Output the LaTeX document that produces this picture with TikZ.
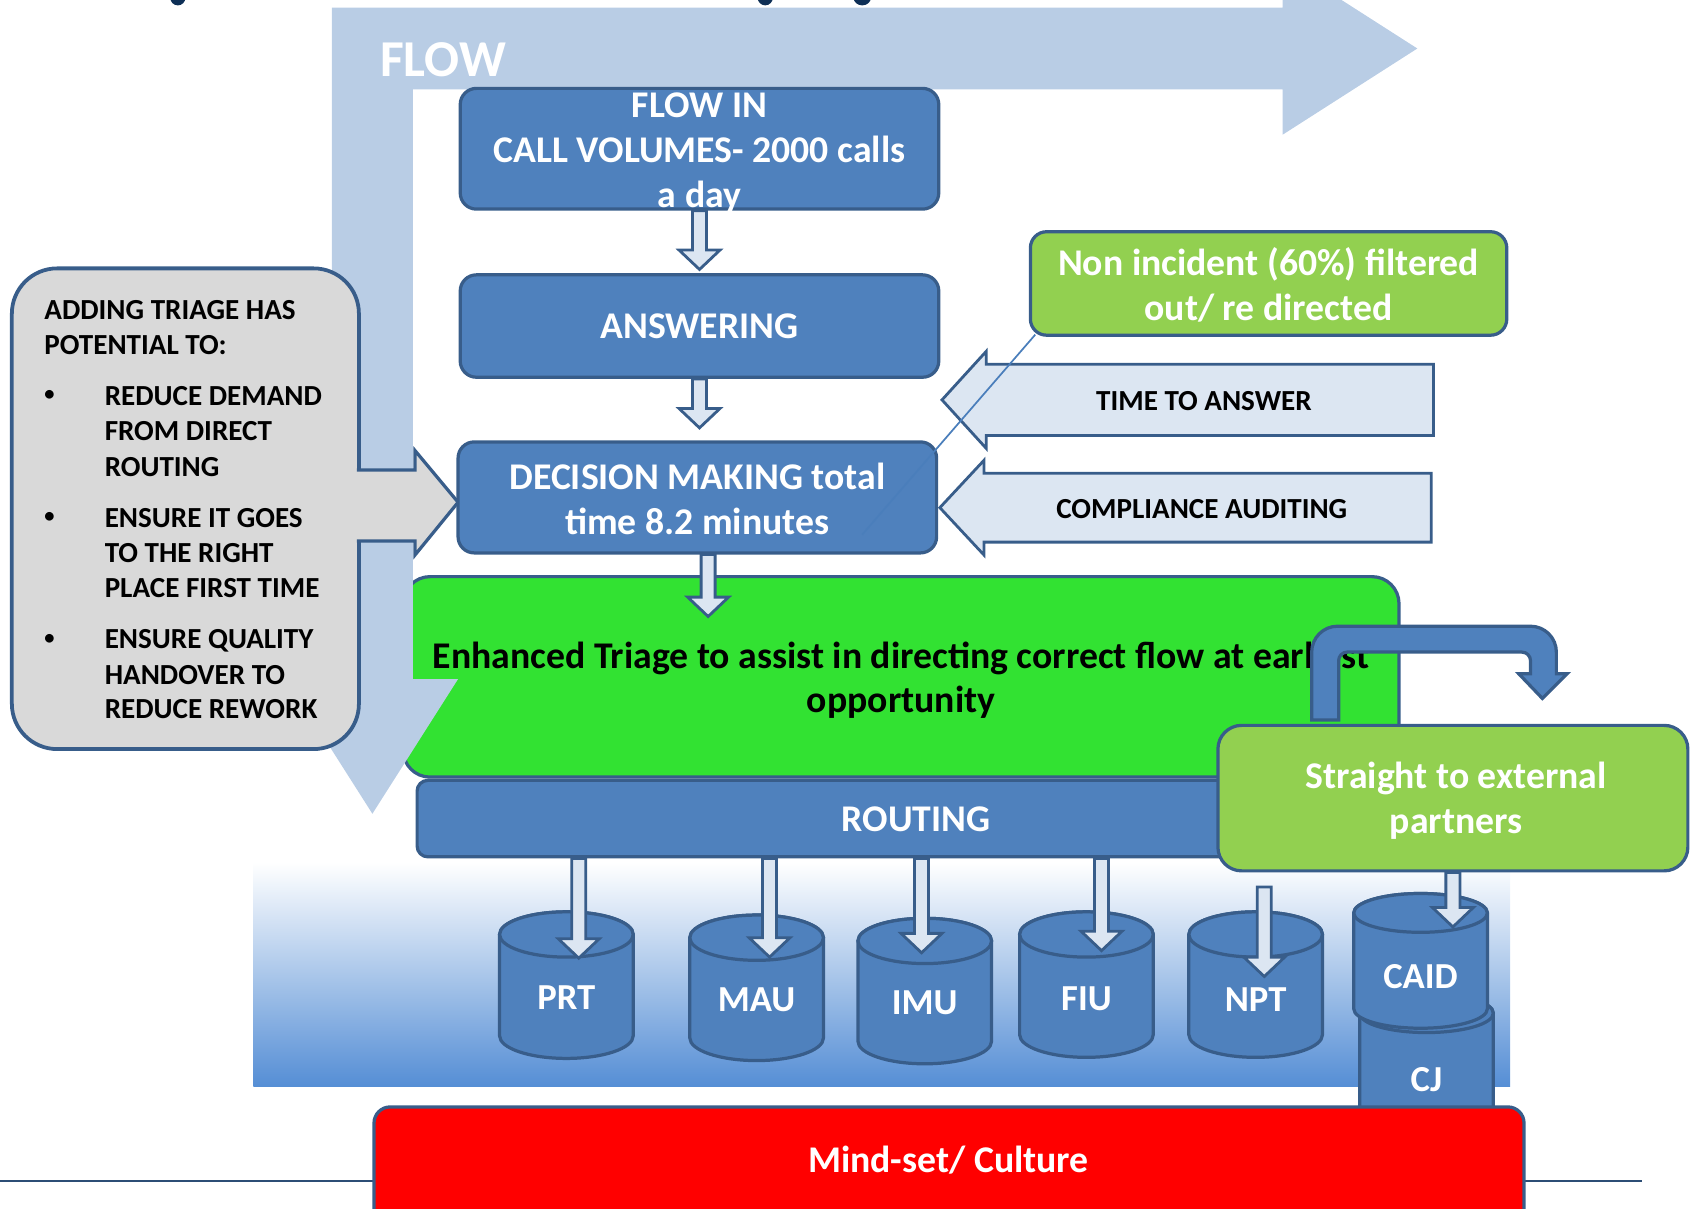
\documentclass[tikz,border=0pt]{standalone}
\usepackage{fontspec}
\setmainfont{Carlito}
\usetikzlibrary{calc}
\definecolor{boxblue}{HTML}{4F81BD}
\definecolor{edge}{HTML}{385D8A}
\definecolor{flowblue}{HTML}{B9CDE5}
\definecolor{paleblue}{HTML}{DCE6F2}
\definecolor{greyfill}{HTML}{D9D9D9}
\definecolor{brightgreen}{HTML}{32E232}
\definecolor{lightgreen}{HTML}{92D050}
\definecolor{gradblue}{HTML}{558ED5}
\definecolor{gradmid}{HTML}{CCD8EE}
\definecolor{navy}{HTML}{0E2F56}
\definecolor{rulecol}{HTML}{2C4D75}
\definecolor{thinline}{HTML}{4A7EBB}
\tikzset{
  bigtext/.style={font=\fontsize{35}{41.5}\selectfont\bfseries, align=center, inner sep=0pt, text=white},
  greytext/.style={font=\fontsize{27}{33}\selectfont\bfseries, inner sep=0pt, text=black, anchor=base west},
  bullettext/.style={font=\fontsize{19}{20}\selectfont\bfseries, inner sep=0pt, text=black, anchor=base west},
  arrowtext/.style={font=\fontsize{27}{30}\selectfont\bfseries, inner sep=0pt, text=black},
  box/.style={draw=edge, line width=3pt, rounded corners=15pt, inner sep=0pt},
  bluebox/.style={box, fill=boxblue},
  hollow/.style={fill=paleblue, draw=edge, line width=2.6pt, line join=miter},
  drumst/.style={fill=boxblue, draw=edge, line width=3pt},
  drumtext/.style={font=\fontsize{34}{40}\selectfont\bfseries, text=white, inner sep=0pt},
}
\newcommand\harrow[2]{%
  \draw[hollow] let \p1=(#1), \p2=(#2) in
    (\x2-6.5pt,\y1) -- (\x2-6.5pt,\y2+18pt) -- (\x2-19pt,\y2+18pt) -- (\x2,\y2)
    -- (\x2+19pt,\y2+18pt) -- (\x2+6.5pt,\y2+18pt) -- (\x2+6.5pt,\y1) -- cycle;}
\newcommand\drum[7]{%
  \draw[drumst] (#2-62,#3) -- (#2-62,#4) arc[start angle=180,end angle=360,x radius=62pt,y radius=#5pt]
    -- (#2+62,#3) arc[start angle=0,end angle=180,x radius=62pt,y radius=#5pt] -- cycle;
  \draw[drumst] (#2,#3) ellipse[x radius=62pt,y radius=#5pt];
  \node[drumtext] (#1) at (#2,#7) {#6};}
\begin{document}
\begin{tikzpicture}[x=1pt,y=-1pt]
\useasboundingbox (0,0) rectangle (1568,1121);
\clip (0,0) rectangle (1568,1121);
% cut-off title descenders
\foreach \cx/\w in {165/7,710/7,800/8,1205/8}{
  \fill[navy] (\cx-\w,-2) -- (\cx+\w,-2) arc[start angle=0,end angle=-180,x radius=\w pt,y radius=7pt] -- cycle;}
% gradient background
\shade[top color=white, middle color=gradmid, bottom color=gradblue] (235,800) rectangle (1401,1008);
% bottom rule
\draw[rulecol, line width=1.5pt] (0,1096) -- (1523,1096);
% triage box
\node[box, fill=brightgreen, rounded corners=25pt, minimum width=924pt, minimum height=186pt] (triage) at (836,628) {};
% big flow arrow
\fill[flowblue] (308,7) -- (1190,7) -- (1190,-35) -- (1315,45) -- (1190,125) -- (1190,83)
  -- (383,83) -- (383,630) -- (425,630) -- (345.5,755) -- (266,630) -- (308,630) -- cycle;
\node[font=\fontsize{48}{50}\selectfont\bfseries, text=white, inner sep=0pt] (flowlbl) at (411,55) {FLOW};
% grey box
\node[draw=edge, line width=3.5pt, fill=greyfill, rounded corners=42pt, minimum width=322pt, minimum height=446pt] (grey) at (172,472) {};
\draw[fill=greyfill, draw=edge, line width=3pt, line join=miter]
  (331,436) -- (385,436) -- (385,418) -- (425,466) -- (385,515) -- (385,502) -- (331,502);
\node[greytext] (g1) at (41,296) {ADDING TRIAGE HAS};
\node[greytext] (g2) at (41,329) {POTENTIAL TO:};
\foreach \i/\yy in {1/372,2/485,3/598}{\node[bullettext] (b\i) at (41,\yy) {\textbullet};}
\foreach \i/\yy/\t in {3/376/REDUCE DEMAND,4/409/FROM DIRECT,5/442/ROUTING,
  6/489/ENSURE IT GOES,7/522/TO THE RIGHT,8/554/PLACE FIRST TIME,
  9/602/ENSURE QUALITY,10/635/HANDOVER TO,11/667/REDUCE REWORK}{
  \node[greytext] (g\i) at (97,\yy) {\t};}
% main blue boxes
\node[bluebox, minimum width=444pt, minimum height=112pt] (flowin) at (649,138) {};
\node[bigtext] (flowint) at (649,142) {FLOW IN\\CALL VOLUMES- 2000 calls\\a day};
\node[bluebox, minimum width=444pt, minimum height=95pt] (answer) at (649,302.5) {};
\node[bigtext] (answert) at (649,303) {ANSWERING};
\node[bluebox, minimum width=444pt, minimum height=103pt] (decide) at (647,461.5) {};
\node[bigtext] (decidet) at (647,463) {DECISION MAKING total\\time 8.2 minutes};
% flow arrows between boxes
\coordinate (tip1) at (649,250);
\coordinate (tip2) at (649,397);
\coordinate (tip3) at (657,572);
\harrow{flowin.south}{tip1}
\harrow{answer.south}{tip2}
\harrow{decide.south}{tip3}
% side arrows
\draw[hollow] (1330,338) -- (915,338) -- (915,326) -- (874,371) -- (915,416) -- (915,404) -- (1330,404) -- cycle;
\node[arrowtext] (tta) at (1117,372) {TIME TO ANSWER};
\draw[hollow] (1328,439) -- (913,439) -- (913,427) -- (872,471) -- (913,515) -- (913,503) -- (1328,503) -- cycle;
\node[arrowtext] (comp) at (1115,472) {COMPLIANCE AUDITING};
% non incident
\node[box, fill=lightgreen, minimum width=442pt, minimum height=96pt] (noninc) at (1177,263) {};
\node[bigtext] (noninct) at (1177,264) {Non incident (60\%) filtered\\out/ re directed};
\coordinate (lineend) at (800,496);
\draw[thinline, line width=1.6pt] ($(noninc.south west)+(6,-2)$) -- (lineend);
% triage text
\node[bigtext, text=black] (triaget) at (836,631) {Enhanced Triage to assist in directing correct flow at earliest\\opportunity};
% routing
\node[bluebox, rounded corners=10pt, minimum width=926pt, minimum height=71pt] (routing) at (850,759.5) {};
\node[bigtext] (routingt) at (850,760) {ROUTING};
% straight to external partners
\node[box, fill=lightgreen, rounded corners=22pt, minimum width=436pt, minimum height=135pt] (straight) at (1348,740.5) {};
\node[bigtext] (straightt) at (1351,743) {Straight to external\\partners};
% U-turn arrow
\draw[fill=boxblue, draw=edge, line width=3pt, line join=miter]
  (1217,668) -- (1217,605) arc[start angle=180,end angle=90,radius=24pt] -- (1420,581)
  arc[start angle=90,end angle=0,radius=24pt] -- (1444,625) -- (1454,625) -- (1431,648)
  -- (1409,625) -- (1420,625) -- (1420,613) arc[start angle=0,end angle=90,radius=8pt]
  -- (1250,605) arc[start angle=90,end angle=180,radius=8pt] -- (1242,668) -- cycle;
% cylinders
\drum{cj}{1323.5}{940}{1060}{18}{CJ}{1002}
\drum{caid}{1318}{847}{936}{18}{CAID}{906}
\drum{prt}{525.5}{867}{961}{21}{PRT}{926}
\drum{mau}{702}{870}{963}{21}{MAU}{928}
\drum{imu}{858}{873}{966}{21}{IMU}{930}
\drum{fiu}{1008}{867}{960}{21}{FIU}{927}
\drum{npt}{1165}{867}{960}{21}{NPT}{927}
% routing arrows
\coordinate (tprt) at (537,889);
\coordinate (tmau) at (714,888);
\coordinate (timu) at (855,884);
\coordinate (tfiu) at (1022,882);
\coordinate (nptstart) at (1173,823);
\coordinate (tnpt) at (1173,906);
\coordinate (tcaid) at (1348,860);
\harrow{routing.south}{tprt}
\harrow{routing.south}{tmau}
\harrow{routing.south}{timu}
\harrow{routing.south}{tfiu}
\harrow{nptstart}{tnpt}
\harrow{straight.south}{tcaid}
% mind-set box
\node[box, fill=red, minimum width=1067pt, minimum height=113pt] (mind) at (880.5,1083.5) {};
\node[bigtext] (mindt) at (880,1076) {Mind-set/ Culture};
\end{tikzpicture}
\end{document}
